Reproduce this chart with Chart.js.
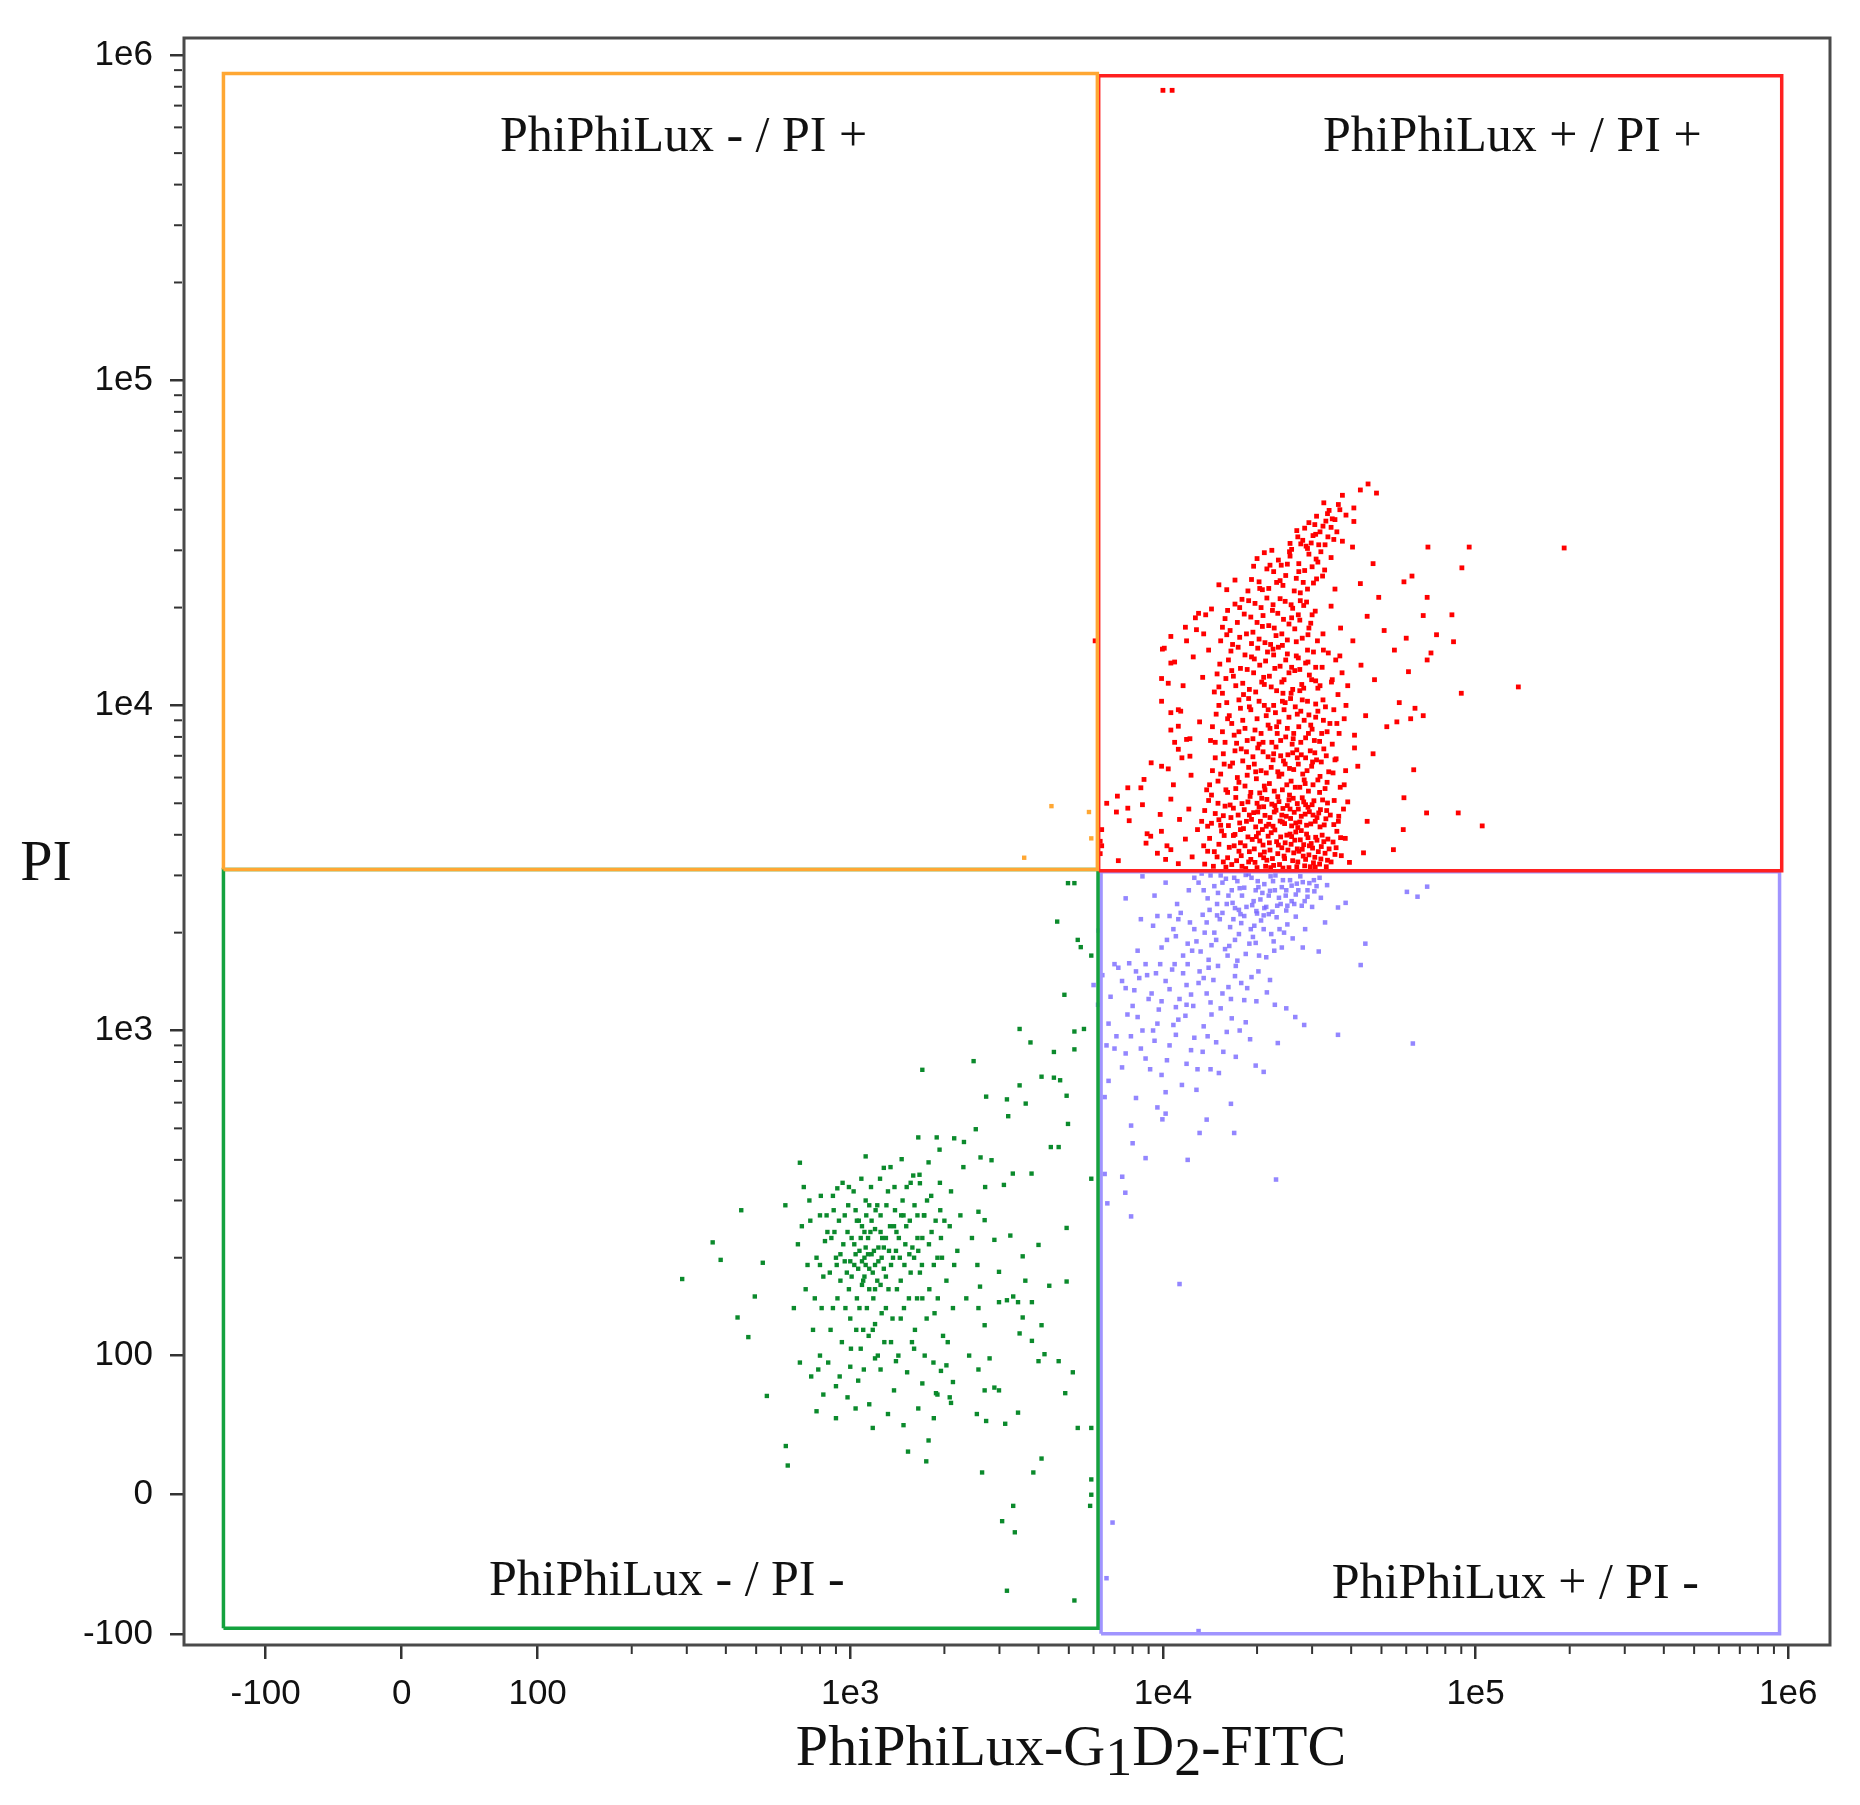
<!DOCTYPE html>
<html><head><meta charset="utf-8">
<script src="https://cdn.jsdelivr.net/npm/chart.js@4.4.1/dist/chart.umd.min.js"></script>
<style>html,body{margin:0;padding:0;background:#fff}#wrap{width:1860px;height:1805px;position:relative}</style>
</head><body><div id="wrap"><canvas id="c"></canvas></div>
<script>
// ---------- axis ticks & labels ----------
const majorTicks = [-100, 0, 100, 1000, 10000, 100000, 1000000];
const majorTickLabels = ['-100', '0', '100', '1e3', '1e4', '1e5', '1e6'];
const minorTicks = [200,300,400,500,600,700,800,900,2000,3000,4000,5000,6000,7000,8000,9000,20000,30000,40000,50000,60000,70000,80000,90000,200000,300000,400000,500000,600000,700000,800000,900000];
const xAxisTitleParts = ['PhiPhiLux-G', '1', 'D', '2', '-FITC'];
const yAxisTitle = 'PI';
const quadrantNames = ['PhiPhiLux - / PI +', 'PhiPhiLux + / PI +', 'PhiPhiLux - / PI -', 'PhiPhiLux + / PI -'];
const quadrantAnchors = [[293, 509000], [131000, 509000], [259, -72], [134000, -74]];

// ---------- gates (FITC, PI corners) ----------
const gateOrange = [[-131,3130],[6170,3130],[6170,879000],[-131,879000],[-131,3130]];
const gateRed = [[6230,3100],[953000,3100],[953000,865000],[6230,865000],[6230,3100]];
const gateGreen = [[-131,-96],[6200,-96],[6200,3130],[-131,3130],[-131,-96]];
const gateBlue = [[6340,-100],[938000,-100],[938000,3080],[6340,3080],[6340,-100]];

// ---------- events [FITC, PI] ----------
const redEvents = [
[13600,3250],[14100,3900],[14900,3420],[15400,4110],[15900,3180],[16300,3660],[16800,3980],[17200,3330],[17700,3780],[18100,4180],[18400,3150],[18900,3550],[19300,3870],[19700,3290],[20200,4050],[20500,3470],[20900,3720],[21300,3200],[21700,3960],[22000,3590],[22400,3380],[22800,4140],[23100,3810],[23600,3240],[24000,3650],[24400,3440],[24900,3990],[25300,3170],[25700,3740],[26200,3520],[26600,4080],[27000,3300],[27500,3860],[27900,3610],[28400,3210],[28800,4020],[29300,3470],[29800,3760],[30300,3280],[30800,3930],[31400,3550],[32000,3370],[32700,3810],[33300,3190],[34000,3620],
[12400,3420],[11800,3880],[11200,3260],[10300,3700],[9600,3510],[8900,4030],[12900,4150],[7200,3330],[6300,3820],[6300,3500],
[35500,3480],[37000,3920],[39500,3290],[43800,3520],[54600,3600],[58700,4150],[105000,4260],
[13900,3560],[14500,3200],[15100,3740],[15700,3980],[16100,3400],[16600,3240],[17000,4010],[17500,3560],[17900,3200],[18300,3700],[18700,3940],[19100,3360],[19600,3620],[20000,3170],[20400,3830],[20800,4150],[21100,3540],[21500,3340],[21900,3780],[22200,4060],[22600,3220],[23300,3500],[23800,3940],[24200,3160],[24600,3780],[25100,3590],[25500,4020],[26000,3330],[26400,3850],[26800,3190],[27200,3560],[27700,4120],[28200,3730],[28600,3360],[29100,3920],[29600,3190],[30100,3640],[30600,3410],[31100,3850],[31700,3250],[32300,3990],[33000,3510],[33700,3880],
[13300,4400],[14000,5100],[14700,4650],[15300,4280],[15800,4900],[16500,4520],[17100,5210],[17600,4350],[18200,4780],[18700,5050],[19200,4460],[19800,4230],[20300,4870],[20700,5180],[21200,4590],[21800,4310],[22300,4970],[22700,4700],[23300,5240],[23700,4410],[24200,4820],[24800,4560],[25300,5120],[25800,4260],[26300,4690],[26900,4990],[27400,4380],[27900,5200],[28500,4630],[29100,4860],[29700,4320],[30400,5090],[31100,4520],[31900,4780],[32800,4290],[33600,5010],
[12100,4800],[11300,4460],[10600,5150],[9800,4620],[8600,4950],[7800,4420],[7100,4700],[36500,4560],[39000,5050],[45000,4400],[69700,4670],[88000,4670],
[13600,4750],[14300,4340],[15000,5000],[15600,4580],[16200,4270],[16800,4830],[17400,4600],[17900,4990],[18500,4400],[19000,5250],[19500,4680],[20000,5000],[20500,4400],[21000,4880],[21500,5140],[22000,4520],[22500,4250],[23000,4760],[23500,5060],[24000,4600],[24500,4330],[25000,4920],[25600,4490],[26100,5180],[26600,4350],[27100,4800],[27700,4560],[28200,5050],[28800,4280],[29400,4710],[30000,4950],[30700,4400],[31500,4670],[32400,5120],[33200,4480],
[13800,5500],[14400,6300],[15000,5850],[15600,7100],[16100,5400],[16700,6650],[17300,6000],[17800,7350],[18300,5650],[18800,6450],[19400,6950],[19900,5950],[20400,5380],[20900,7200],[21400,6200],[21900,5750],[22500,6800],[23000,7450],[23500,6050],[24100,5500],[24600,6600],[25100,7050],[25700,5850],[26200,6350],[26800,7300],[27400,5600],[28000,6150],[28600,6900],[29200,5450],[29900,6500],[30600,7150],[31300,5900],[32100,6700],[33000,5550],[33900,6250],
[12300,6100],[11500,6900],[10800,5700],[9900,6500],[8700,5920],[35800,6850],[38000,5700],[42000,6500],[47000,7100],[63400,6340],[59000,5200],[41000,7400],
[14100,5700],[14700,6900],[15300,6150],[15900,5500],[16400,6500],[17000,7250],[17500,5800],[18000,6750],[18600,6100],[19100,5400],[19600,6600],[20100,7400],[20600,6300],[21100,5650],[21700,6950],[22200,6450],[22700,5450],[23300,6250],[23800,7000],[24300,6750],[24900,5700],[25400,6400],[26000,7150],[26500,5600],[27100,6600],[27700,7050],[28300,5900],[28900,6300],[29600,7250],[30200,5700],[31000,6800],[31800,6050],[32700,7350],[33500,5800],
[14200,7800],[14800,9400],[15500,8300],[16000,10200],[16600,8800],[17200,7650],[17700,9800],[18300,8500],[18800,10500],[19400,7900],[20000,9100],[20600,8200],[21100,10000],[21700,8700],[22300,7700],[22900,9500],[23500,8900],[24100,10300],[24700,8000],[25300,9200],[25900,7600],[26500,9900],[27200,8600],[27900,10400],[28600,7950],[29300,9350],[30000,8450],[30800,10100],[31700,7750],[32600,9000],[33500,8300],
[13100,8900],[12200,7900],[11400,9600],[10600,8400],[9900,10300],[10900,7700],[36000,8800],[38500,10000],[41000,8100],[44500,9300],[52000,8600],[57000,10200],[62000,9100],[68000,9300],[64000,9800],[56000,8900],
[14400,8600],[15100,10000],[15800,7700],[16300,9300],[16900,8100],[17500,10400],[18000,9000],[18600,7800],[19100,9700],[19700,8400],[20300,10300],[20900,7700],[21400,9300],[22000,8500],[22600,10000],[23200,8200],[23800,7800],[24400,9700],[25000,8500],[25600,10500],[26200,8200],[26900,9400],[27600,7700],[28300,9000],[29000,10300],[29700,8700],[30500,7800],[31300,9600],[32200,8200],[33100,9900],
[14600,11000],[15200,13400],[15900,12100],[16500,14700],[17100,11500],[17700,13000],[18300,14300],[18900,11200],[19500,12600],[20100,15000],[20700,11800],[21300,13700],[21900,12300],[22500,14900],[23100,11100],[23700,13200],[24400,12000],[25000,14400],[25700,10900],[26400,12800],[27100,14000],[27800,11600],[28600,13500],[29400,12400],[30300,14600],[31300,11300],[32300,13100],
[13400,12200],[12500,14100],[11600,11500],[10900,13600],[9900,12100],[10100,15000],[34800,12000],[36800,14200],[39000,11500],[43000,13300],[47500,12000],[55000,14800],[61000,12700],[70000,13800],[72000,14500],[90000,10900],[137000,11400],
[14900,12500],[15500,10900],[16200,13800],[16800,12300],[17400,15100],[18000,11700],[18600,12900],[19200,14100],[19800,11000],[20400,13300],[21000,12200],[21600,14600],[22200,11400],[22800,13000],[23400,15100],[24000,11800],[24700,13800],[25300,12600],[26000,11200],[26700,14200],[27400,12900],[28200,11300],[29000,14800],[29900,12000],[30800,13100],[31800,11500],
[15300,15800],[15800,18500],[16400,17000],[17000,20500],[17600,16200],[18200,19100],[18800,21000],[19400,16800],[20000,18000],[20600,20000],[21200,15600],[21800,17600],[22400,19600],[23000,16400],[23700,21300],[24300,18400],[25000,15900],[25700,20400],[26400,17200],[27100,19000],[27900,16100],[28800,20800],[29700,17900],[30700,19500],
[14300,19800],[13500,16600],[12700,18600],[11800,17400],[10600,16300],[32500,16600],[34500,20200],[37000,17300],[40500,15800],[45000,18800],[51000,17000],[60000,16100],[68000,18900],[75000,16500],[70000,21500],[85000,15700],[84000,19000],
[15500,17400],[16100,19600],[16700,15400],[17300,18000],[17900,21200],[18500,16600],[19100,18700],[19700,20600],[20300,16000],[20900,18900],[21500,21400],[22100,15400],[22700,17300],[23300,19200],[24000,16600],[24600,20900],[25300,17800],[26000,19900],[26700,15700],[27400,18300],[28200,20300],[29100,16500],[30000,19000],
[18700,22500],[19500,26800],[20300,24000],[21100,29500],[21800,22900],[22600,25800],[23400,28000],[24200,23400],[25000,27200],[25800,30200],[26700,24600],[27500,22200],[28400,26000],[29300,29200],[30300,23800],[31300,27600],[32400,25000],
[17000,24300],[16000,22700],[15100,23500],[34500,28500],[35500,22800],[40400,30700],[42800,23700],[47000,27300],[59000,24000],[62600,25000],[70400,30700],[90400,26500],[95400,30700],[192000,30500],[49000,21500],
[19200,24400],[20000,28300],[20800,22700],[21500,26300],[22300,30000],[23100,23900],[23900,27000],[24700,25100],[25500,28800],[26300,22500],[27200,27300],[28100,23900],[29000,30400],[30000,26700],[31000,24500],[32000,29700],
[25500,31500],[26800,34500],[28000,32200],[29300,36500],[30200,33300],[31500,31200],[32500,35600],[33700,33000],[34800,37500],[36000,34200],[31000,38200],[37500,32000],[40800,36800],[28700,30900],
[27000,33000],[29800,31600],[31800,34200],[33200,36900],[35200,32400],[30600,36000],[28400,35100],[34500,35300],
[34000,39800],[36400,41500],[32700,42000],[37500,44300],[40800,40500],[42800,46000],[45300,48000],[48200,45000],[33600,38900],
[6610,5000],[7150,5260],[7720,5580],[8500,5580],[7720,4830],[6370,4150],[6370,3700],[8830,3770],[9140,3960],[9890,4100],[10600,3600],[10200,3360],
[6070,15800],[9960,14900],[10600,13500],[10400,11700],[10600,9500],[11200,9700],[11200,8630],[9170,6660],[10400,6380],[11200,7330],[11900,7860],[12200,6980],[13000,19200],[13700,19000],[11900,15800],[12800,17100],[14000,14800],
[10000,780000],[10700,780000],
[13500,3700],[14600,3550],[15600,3300],[16900,3700],[17800,3450],[18800,3300],[19900,3950],[21000,3400],[22100,3170],[23400,3720],[24500,3380],[25800,3950],[26900,3620],[28100,3440],[29400,3700],[30700,3180],[32100,3680],[33600,3340],[35000,3800],[36000,4100],
[13900,4250],[15100,4450],[16400,4940],[17700,4150],[18900,4600],[20100,4700],[21400,4250],[22800,4920],[24100,4380],[25500,4800],[27000,4210],[28600,4950],[30200,4600],[31800,4230],[33400,4750],[35200,4300],
[14300,5300],[15700,6600],[17100,5550],[18500,7200],[19800,6250],[21200,5500],[22600,7100],[24000,6150],[25400,5300],[26900,6900],[28500,5750],[30100,6700],[31700,5400],[33300,7000],[35000,6200],
[14700,7700],[16100,9100],[17500,8300],[18900,9900],[20300,7600],[21700,9700],[23100,8600],[24600,10200],[26100,7900],[27600,9600],[29200,8200],[30800,9200],[32500,10400],[34200,8800],
[15100,11400],[16600,12800],[18100,10800],[19600,13900],[21100,11600],[22600,14300],[24200,10900],[25800,13100],[27400,11100],[29100,13600],[30800,11900],[32600,14800],
[16000,16500],[17600,20000],[19200,15500],[20800,17500],[22500,20400],[24100,15300],[25800,18600],[27500,21000],[29300,17300],[31200,15800],
[20400,22900],[22000,27000],[23700,24200],[25400,29700],[27200,25800],[29000,22800],[30900,28200],[32900,26100],
[27600,31400],[30800,33600],[33000,31200],[35500,37300],[38500,38500],[36800,40000],
[34500,3300],[35800,3650],[37200,3450],[38300,3900],[36400,4400],[37800,4800],[35300,5100],[34300,4600],[36900,5600],[38400,6300],[35500,6800],[34800,7600],[36600,8200],[38000,9100],[35200,9700],[36300,10800],[34600,11800],[37400,12600],[35700,13800],[33800,14500]
];

const blueEvents = [
[12600,2950],[13500,2700],[14200,3000],[14900,2450],[15500,2850],[16200,2600],[16900,2950],[17500,2350],[18200,2750],[18800,3030],[19500,2500],[20100,2880],[20800,2650],[21400,2400],[22100,2980],[22800,2700],[23500,2560],[24200,2900],[25000,2420],[25800,2790],[26600,2620],[27500,2980],[28400,2500],[29400,2840],[30500,2680],[31700,2950],[22400,2320],[19900,2330],[17000,2380],[24800,2340],
[8600,2980],[9400,2600],[10200,2850],[11100,2450],[7600,2550],[36300,2390],[38400,2470],[60300,2670],[65200,2580],[70000,2770],
[9300,2100],[9900,1800],[10500,2250],[11000,1950],[11600,1700],[12200,2150],[12800,1880],[13400,2270],[14000,1650],[14600,2000],[15200,2200],[15800,1780],[16400,2080],[17000,1900],[17700,2280],[18400,1720],[19100,2050],[19800,1860],[20600,2180],[21400,1680],[22200,1980],[23100,2230],[24000,1800],[25000,2120],[26000,1920],[14300,1830],[17300,1640],[20000,2290],
[8300,1760],[8500,2200],[28500,2050],[31500,1750],[33000,2150],[44400,1850],[42900,1590],[6230,2030],
[6400,1480],[6800,1270],[7200,1560],[7600,1350],[8000,1190],[8400,1450],[8800,1600],[9200,1300],[9700,1160],[10200,1420],[10700,1540],[11300,1250],[11900,1380],[12500,1190],[13100,1520],[13800,1300],[14500,1430],[15300,1170],[16200,1360],[17100,1580],[18200,1240],[19200,1460],[21500,1310],[22800,1200],[24800,1170],[12000,1600],[9500,1500],[7800,1610],[6000,1380],[6200,1200],
[6700,1050],[7000,880],[7400,770],[7900,960],[8300,1100],[8800,820],[9300,1000],[9900,730],[10500,900],[11200,1080],[11900,790],[12600,950],[13400,860],[14300,1120],[15100,740],[16000,990],[17100,830],[18400,1060],[19800,780],[21000,746],[23300,915],[28300,1040],[36300,970],[63000,912],[26500,1100],
[6510,624],[10200,646],[12800,657],[16500,595],[10200,555],[9960,533],[13800,532],[7910,510],[13100,484],[16900,484],[8800,405],[6510,362],[7410,355],[7580,317],[6640,294],[7910,268],[23000,348],[11300,166],
[6900,-20],[6600,-60],[13000,-98],
[13000,2850],[13900,2550],[14600,2780],[15300,3000],[16000,2450],[16600,2700],[17300,2880],[17900,2600],[18500,2400],[19200,2950],[19800,2700],[20500,2530],[21100,2820],[21800,2600],[22500,2880],[23200,2420],[24000,2760],[24700,2600],[25500,2900],[26300,2450],[27100,2700],[28000,2860],[29000,2580],[30000,2400],[31000,2780],
[10800,2050],[11400,2300],[12000,1850],[12600,2050],[13200,1750],[13800,2150],[14800,1900],[15500,2300],[16100,1700],[16800,2200],[17500,1980],[18200,2250],[18900,1850],[19600,2100],[20300,1700],[21000,2050],[21800,2280],[22600,1880],[23600,2050],
[7400,1420],[8200,1520],[9000,1250],[9800,1600],[10500,1340],[11000,1180],[11600,1500],[12300,1290],[13500,1450],[14200,1220],[15000,1580],[16500,1250],[17800,1400],[20200,1520],
[7100,960],[7700,1120],[8500,880],[9100,760],[9600,1050],[10300,810],[11000,970],[11800,1110],[12900,760],[13900,960],[15600,860],[17600,1000],
[12100,2700],[13300,3040],[14100,2350],[15000,2650],[15900,2930],[16700,2470],[17600,2740],[18400,3010],[19300,2430],[20200,2760],[21100,2380],[22000,2690],[22900,3000],[23800,2450],[24800,2700],[25800,2500],[26800,2830],[27800,2420],[29000,2700],[30400,2900],[32000,2560],[33500,2800],
[9600,2250],[10300,1900],[11200,2200],[12400,1760],[13600,2000],[14900,2260],[16300,1820],[17800,2140],[19400,1940],[21000,2260],[22700,1760],[24400,2000],[26600,2240],[28000,1800],
[7000,1600],[8100,1330],[8900,1480],[9900,1230],[10900,1600],[11900,1200],[13000,1400],[14000,1560],[15500,1300],[17000,1470],[18600,1350],[19900,1230],[22000,1430],
[6600,900],[7600,850],[8600,1000],[9400,930],[10800,1040],[12300,870],[13500,1030],[14800,920],[16600,1090],[19000,940],
[6700,700],[8200,620],[9600,580],[11500,680],[14200,760],[8000,450],[12000,400]
];

const greenEvents = [
[700,250],[720,160],[740,300],[760,120],[780,200],[800,270],[810,140],[830,225],[850,95],[860,180],[880,310],[890,240],[910,150],[930,205],[940,110],[960,270],[975,180],[990,330],[1000,130],[1010,230],[1030,190],[1040,280],[1050,150],[1070,210],[1080,105],[1090,250],[1100,170],[1110,200],[1120,300],[1130,140],[1140,230],[1150,185],[1170,260],[1180,120],[1190,210],[1200,160],[1220,290],[1230,195],[1250,240],[1260,135],[1280,215],[1300,175],[1320,320],[1340,250],[1350,110],[1370,200],[1390,280],[1410,160],[1430,230],[1450,130],[1470,300],[1490,190],[1510,250],[1540,150],[1560,340],[1580,215],[1610,120],[1640,270],[1670,180],[1700,230],[1730,100],[1760,300],[1790,160],[1820,240],[1860,135],[1900,200],[1940,280],[1980,115],[2030,170],[2080,250],[2130,140],[2200,210],
[1060,185],[1090,195],[1110,175],[1120,215],[1080,230],[1150,160],[1040,205],[1000,195],[1180,180],[1140,205],[950,220],[1220,170],[1260,200],[990,160],[1070,140],[1160,240],[1300,230],[1350,190],[1400,210],[1200,245],[1250,165],[900,200],[870,230],[920,260],[1450,170],[1600,200],[1700,150],[1500,220],[1550,260],[1650,210],
[750,85],[820,72],[900,78],[980,70],[1060,82],[1150,65],[1250,90],[1380,75],[1520,88],[1700,80],[1900,72],[800,100],[1000,92],[1200,98],[1400,96],[1600,105],
[909,327],[1120,410],[1280,378],[1460,402],[1590,358],[1670,339],[1780,393],[1930,430],[2150,466],[2310,454],[1890,469],[1650,469],[2520,497],[2610,407],[2830,399],[3310,363],[3800,363],[3100,335],
[2570,277],[2690,261],[2890,227],[3250,234],[3560,202],[4000,219],[4330,164],[4920,169],[3630,170],[3320,152],[2990,181],[2600,163],[2570,140],[2690,124],[2990,146],[3170,148],[3440,146],[3560,131],[3480,117],[3810,146],[3810,111],[4090,124],[4180,101],[4000,96],[4640,96],[5150,88],[4870,73],[3440,59],[3130,51],[2720,53],[2540,58],[2690,75],[2890,77],[2570,90],[2790,98],[2990,75],[2080,70],[2130,81],[1950,89],[1880,73],[2030,93],
[1700,757],[2480,805],[3480,1011],[3770,919],[4480,859],[4480,716],[4090,721],[4690,703],[4920,630],[3480,678],[3640,596],[3170,614],[2720,626],[3200,545],[4970,516],[4380,438],[4640,438],[5210,993],[5210,875],[4590,2163],[4840,1288],[4970,2840],[5210,2840],[5340,1900],[5460,1805],[5590,1011],[4920,247],
[5900,1700],[5900,350],[5900,48],[5900,11],[5900,0],[5850,-8],
[1530,31],[1750,24],[1780,39],[2640,16],[4090,26],[3850,16],[3320,-8],[3060,-19],[3360,-27],[5340,48],[3170,-69],[5210,-76],
[290,172],[363,223],[385,197],[448,280],[436,131],[472,114],[495,152],[525,193],[541,71],[690,392],[622,35],[631,21],
[1030,220],[1090,165],[1120,190],[1170,205],[1010,175],[960,195],[1230,215],[1280,185],[1200,190],[1110,240],[1050,260],[1150,290],[1250,270],[1330,210],[1380,250],[1440,200],[1300,140],[1200,125],[1100,120],[980,240],[930,170],[880,140],[840,270],[800,190],[1480,270],[1560,180],[1640,230],[1720,270],[1850,190],[1950,230],
[620,290],[660,140],[680,220],[690,95],[710,330],[730,190],[745,260],[770,150],[790,90],[805,310],[820,175],[845,240],[865,120],[885,280],[905,190],[925,85],[945,340],[965,140],[985,290],[1005,105],[1025,320],[1045,120],[1065,260],[1085,350],[1105,90],[1125,270],[1145,115],[1165,330],[1185,150],[1205,280],[1225,100],[1245,350],[1265,230],[1285,110],[1305,290],[1325,160],[1345,380],[1365,130],[1385,330],[1405,240],[1425,100],[1455,270],[1485,140],[1515,330],[1545,205],[1575,110],[1605,290],[1635,150],[1665,360],[1695,190],[1725,270],[1755,130],[1785,220],[1815,310],[1845,95],[1875,260],[1905,150],[1935,340],[1965,200],[2000,260],[2050,110],[2100,320],[2150,190],[2250,270],[2350,150],[2450,230],[2550,190],[2700,330],[2400,100],[2300,380],
[780,60],[900,55],[1040,62],[1180,48],[1320,58],[1480,50],[1650,62],[1850,55],[2100,66]
];

const orangeEvents = [[4400,4900],[3600,3400],[5800,4700],[5900,3900]];

// ---------- bi-exponential axis (linear around zero, log above 100) ----------
function biexT(v, k) { return v <= 100 ? k * v / 100 : k + Math.log10(v / 100); }
function biexInv(t, k) { return t <= k ? t / k * 100 : 100 * Math.pow(10, t - k); }

class BiexScale extends Chart.Scale {
  static id = 'biex';
  static defaults = {};
  determineDataLimits() { this.min = this.options.min; this.max = this.options.max; }
  buildTicks() { return majorTicks.map(v => ({ value: v })); }
  configure() {
    super.configure();
    this._k = this.options.linearWidth;
    this._t0 = biexT(this.min, this._k);
    this._t1 = biexT(this.max, this._k);
  }
  getLabelForValue(v) { return String(v); }
  getPixelForValue(v) { return this.getPixelForDecimal((biexT(v, this._k) - this._t0) / (this._t1 - this._t0)); }
  getValueForPixel(p) { return biexInv(this._t0 + this.getDecimalForPixel(p) * (this._t1 - this._t0), this._k); }
}
Chart.register(BiexScale);

const tickFont = { family: '"Liberation Sans", Arial, sans-serif', size: 35 };
const labelOf = v => { const i = majorTicks.indexOf(v); return i >= 0 ? majorTickLabels[i] : ''; };

const decor = {
  id: 'decor',
  afterDatasetsDraw(chart) {
    const { ctx, chartArea: a, scales: { x, y } } = chart;
    ctx.save();
    ctx.strokeStyle = '#333'; ctx.lineWidth = 2;
    minorTicks.forEach(v => {
      const px = x.getPixelForValue(v);
      ctx.beginPath(); ctx.moveTo(px, a.bottom); ctx.lineTo(px, a.bottom + 9); ctx.stroke();
      const py = y.getPixelForValue(v);
      ctx.beginPath(); ctx.moveTo(a.left - 10, py); ctx.lineTo(a.left - 2, py); ctx.stroke();
    });
    ctx.strokeStyle = '#4a4a4a'; ctx.lineWidth = 3;
    ctx.strokeRect(a.left, a.top, a.right - a.left, a.bottom - a.top);
    ctx.fillStyle = '#111';
    ctx.font = '50px "Liberation Serif", "Times New Roman", serif';
    ctx.textAlign = 'center'; ctx.textBaseline = 'alphabetic';
    quadrantNames.forEach((n, i) => {
      ctx.fillText(n, x.getPixelForValue(quadrantAnchors[i][0]), y.getPixelForValue(quadrantAnchors[i][1]));
    });
    // axis titles
    ctx.font = '58px "Liberation Serif", "Times New Roman", serif';
    ctx.fillText(yAxisTitle, 46, 880);
    const sizes = xAxisTitleParts.map((p, i) => {
      ctx.font = (i % 2 ? '54px' : '58px') + ' "Liberation Serif", serif';
      return ctx.measureText(p).width;
    });
    const total = sizes.reduce((s, w) => s + w, 0);
    let cx = 1071 - total / 2;
    ctx.textAlign = 'left';
    xAxisTitleParts.forEach((p, i) => {
      ctx.font = (i % 2 ? '54px' : '58px') + ' "Liberation Serif", serif';
      ctx.fillText(p, cx, 1765 + (i % 2 ? 10 : 0));
      cx += sizes[i];
    });
    ctx.restore();
  }
};

function gateSet(data, color) {
  return { data, showLine: true, borderColor: color, borderWidth: 3.5, pointRadius: 0, fill: false, tension: 0, order: 0 };
}
function eventSet(data, color, r) {
  return { data, showLine: false, pointStyle: 'rect', pointRadius: r, pointBorderWidth: 0, backgroundColor: color, pointBackgroundColor: color, order: 1 };
}

new Chart(document.getElementById('c'), {
  type: 'scatter',
  data: {
    datasets: [
      eventSet(greenEvents, '#0b8a2c', 3.1),
      eventSet(blueEvents, 'rgba(120,104,255,0.8)', 3.2),
      eventSet(redEvents, '#ff0000', 3.4),
      eventSet(orangeEvents, '#ffa733', 3.1),
      gateSet(gateOrange, '#ffa733'),
      gateSet(gateRed, '#ff2020'),
      gateSet(gateGreen, '#14a23e'),
      gateSet(gateBlue, '#a094ff')
    ]
  },
  options: {
    responsive: true, maintainAspectRatio: false, animation: false, devicePixelRatio: 1,
    layout: { padding: { top: 36, right: 30, left: 0, bottom: 0 } },
    plugins: { legend: { display: false }, tooltip: { enabled: false } },
    scales: {
      x: {
        type: 'biex', min: -160, max: 1360000, linearWidth: 0.435,
        afterFit: s => { s.height = 160; },
        border: { display: false },
        grid: { drawOnChartArea: false, drawTicks: true, tickLength: 14, color: '#333', lineWidth: 2.5 },
        ticks: { autoSkip: false, maxRotation: 0, minRotation: 0, padding: 14, color: '#111', font: tickFont, callback: labelOf }
      },
      y: {
        type: 'biex', min: -108, max: 1130000, linearWidth: 0.428,
        afterFit: s => { s.width = 184; },
        border: { display: false },
        grid: { drawOnChartArea: false, drawTicks: true, tickLength: 14, color: '#333', lineWidth: 2.5 },
        ticks: { autoSkip: false, padding: 17, color: '#111', font: tickFont, callback: labelOf }
      }
    }
  },
  plugins: [decor]
});
</script>
</body></html>
